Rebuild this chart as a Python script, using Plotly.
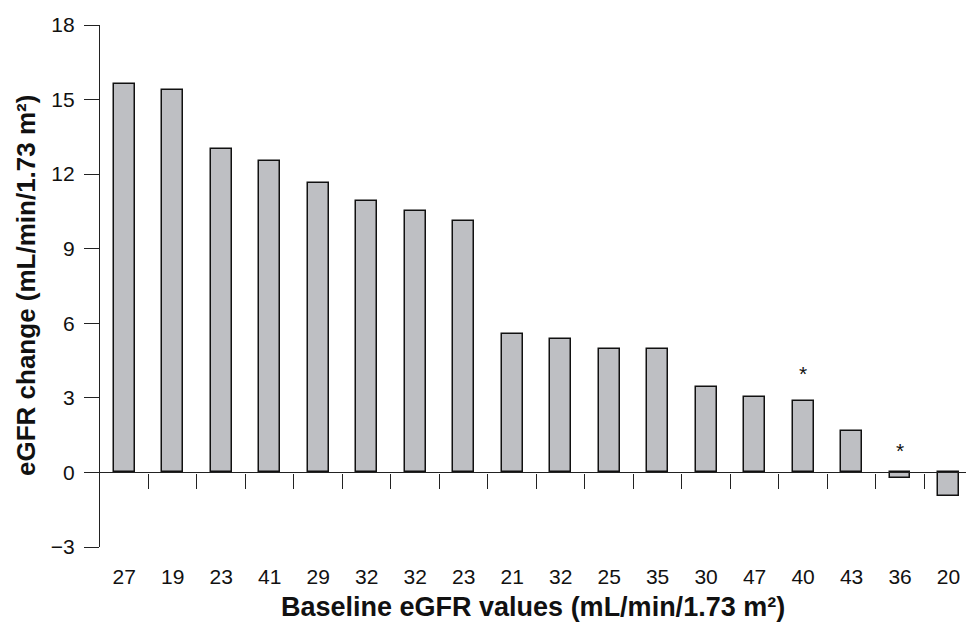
import plotly.graph_objects as go

baseline_labels = ["27", "19", "23", "41", "29", "32", "32", "23", "21",
                   "32", "25", "35", "30", "47", "40", "43", "36", "20"]
egfr_change = [15.62, 15.4, 13.0, 12.53, 11.65, 10.92, 10.52, 10.12, 5.58,
               5.38, 4.98, 4.98, 3.45, 3.05, 2.89, 1.67, -0.23, -0.96]
asterisk_index = [14, 16]
asterisk_y = [4.16, 1.06]
y_tick_vals = [-3, 0, 3, 6, 9, 12, 15, 18]
y_tick_text = ["\u22123", "0", "3", "6", "9", "12", "15", "18"]
x_title = "Baseline eGFR values (mL/min/1.73 m\u00b2)"
y_title = "eGFR change (mL/min/1.73 m\u00b2)"

positions = list(range(len(baseline_labels)))
font_family = "Arial, Liberation Sans, sans-serif"

fig = go.Figure()
fig.add_trace(go.Bar(
    x=positions, y=egfr_change, width=0.43,
    marker=dict(color="#BEBFC3", line=dict(color="#111111", width=1.5)),
    showlegend=False, hoverinfo="x+y",
))
# helper trace so that the zero-line axis (ticks between bars) is drawn
fig.add_trace(go.Scatter(x=[positions[0]], y=[0], xaxis="x2", mode="markers",
                         marker=dict(opacity=0), showlegend=False, hoverinfo="skip"))

for i, yv in zip(asterisk_index, asterisk_y):
    fig.add_annotation(x=positions[i], y=yv, text="*", showarrow=False, yshift=-4,
                       font=dict(family=font_family, size=21, color="#111"))

# axis titles
fig.add_annotation(x=0.5, y=0, xref="paper", yref="paper", xanchor="center",
                   yanchor="middle", yshift=-60, showarrow=False,
                   text="<b>" + x_title + "</b>",
                   font=dict(family=font_family, size=27, color="#111"))
fig.add_annotation(x=0, y=0.5, xref="paper", yref="paper", xanchor="center",
                   yanchor="middle", xshift=-74, textangle=-90, showarrow=False,
                   text="<b>" + y_title + "</b>",
                   font=dict(family=font_family, size=26, color="#111"))

x_range = [-0.5, 17.36]
y_range = [-3, 18]

fig.update_layout(
    width=966, height=622,
    margin=dict(l=100, r=0, t=25, b=75),
    paper_bgcolor="white", plot_bgcolor="white",
    font=dict(family=font_family, color="#111111"),
    bargap=0,
    xaxis=dict(
        range=x_range, tickmode="array", tickvals=positions, ticktext=baseline_labels,
        showline=False, showgrid=False, zeroline=False, ticks="",
        tickfont=dict(size=21), ticklabelstandoff=15,
    ),
    xaxis2=dict(
        range=x_range, overlaying="x", anchor="free",
        position=(0 - y_range[0]) / (y_range[1] - y_range[0]),
        tickmode="array", tickvals=[p + 0.5 for p in positions[:-1]],
        ticks="outside", ticklen=15, tickwidth=1.3, tickcolor="#222",
        showticklabels=False, showline=True, linecolor="#222", linewidth=1.3,
        showgrid=False, zeroline=False, side="bottom",
    ),
    yaxis=dict(
        range=y_range, tickmode="array", tickvals=y_tick_vals, ticktext=y_tick_text,
        ticks="outside", ticklen=15, tickwidth=1.3, tickcolor="#222",
        showline=True, linecolor="#222", linewidth=1.3,
        showgrid=False, zeroline=False, tickfont=dict(size=21), ticklabelstandoff=5,
    ),
)

fig.write_html(
    "out.html",
    config={"displayModeBar": False},
    post_script="document.body.style.margin='0';document.body.style.overflow='hidden';",
)
